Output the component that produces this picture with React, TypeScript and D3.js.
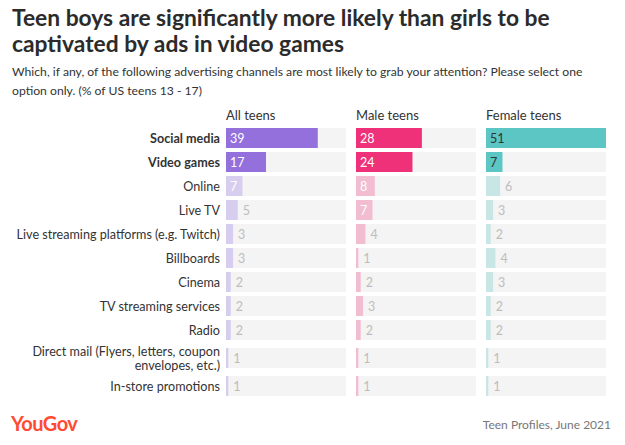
import React from "react";
import * as d3 from "d3";

const categories = [
  "Social media",
  "Video games",
  "Online",
  "Live TV",
  "Live streaming platforms (e.g. Twitch)",
  "Billboards",
  "Cinema",
  "TV streaming services",
  "Radio",
  "Direct mail (Flyers, letters, coupon|envelopes, etc.)",
  "In-store promotions",
];
const highlighted = ["Social media", "Video games"];
const allTeens = [39, 17, 7, 5, 3, 3, 2, 2, 2, 1, 1];
const maleTeens = [28, 24, 8, 7, 4, 1, 2, 3, 2, 1, 1];
const femaleTeens = [51, 7, 6, 3, 2, 4, 3, 2, 2, 1, 1];
const seriesNames = ["All teens", "Male teens", "Female teens"];

const panels = [
  { name: seriesNames[0], values: allTeens, strong: "#9370DB", light: "#D7CEEF", strongText: "#ffffff", x0: 226 },
  { name: seriesNames[1], values: maleTeens, strong: "#EE3179", light: "#F2BCD1", strongText: "#ffffff", x0: 356 },
  { name: seriesNames[2], values: femaleTeens, strong: "#5BC6C4", light: "#C8E6E6", strongText: "#333333", x0: 486 },
];

const FONT = "Lato, 'Open Sans', sans-serif";

export default function App() {
  const panelW = 120;
  const x = d3.scaleLinear().domain([0, 51]).range([0, panelW]);

  const rows: { y: number; lines: string[] }[] = [];
  let cy = 128;
  categories.forEach((c) => {
    const lines = c.split("|");
    const extra = lines.length > 1 ? 4 : 0;
    rows.push({ y: cy + extra, lines });
    cy += 20 + 2 * extra + 4;
  });

  return (
    <svg
      width={625}
      height={445}
      style={{ position: "absolute", left: 0, top: 0, background: "#fff" }}
      fontFamily={FONT}
    >
      <text x={12} y={26} fontSize={22.8} fontWeight={700} fill="#2b2b2b">
        Teen boys are significantly more likely than girls to be
      </text>
      <text x={12} y={52} fontSize={22.8} fontWeight={700} fill="#2b2b2b">
        captivated by ads in video games
      </text>
      <text x={12} y={76} fontSize={12.2} fill="#333">
        Which, if any, of the following advertising channels are most likely to grab your attention? Please select one
      </text>
      <text x={12} y={95} fontSize={12.2} fill="#333">
        option only. (% of US teens 13 - 17)
      </text>

      {panels.map((p) => (
        <text key={p.name} x={p.x0} y={120} fontSize={13} fill="#333">
          {p.name}
        </text>
      ))}

      {categories.map((c, i) => {
        const r = rows[i];
        const bold = highlighted.includes(c);
        const barY = r.y;
        const barH = 20;
        const mid = barY + barH / 2;
        return (
          <g key={c}>
            {r.lines.length === 1 ? (
              <text x={220} y={mid + 4.5} fontSize={12.6} textAnchor="end" fill="#333" fontWeight={bold ? 700 : 400}>
                {r.lines[0]}
              </text>
            ) : (
              r.lines.map((l, k) => (
                <text key={k} x={220} y={mid - 2.5 + k * 14.5} fontSize={12.6} textAnchor="end" fill="#333">
                  {l}
                </text>
              ))
            )}
            {panels.map((p) => {
              const v = p.values[i];
              const w = x(v);
              const isStrong = bold;
              const inside = isStrong || w >= 16;
              const color = isStrong ? p.strong : p.light;
              const txtColor = isStrong ? p.strongText : inside ? "#ffffff" : "#bdbdbd";
              return (
                <g key={p.name}>
                  <rect x={p.x0} y={barY} width={panelW} height={barH} fill="#F4F4F4" />
                  <rect x={p.x0} y={barY} width={w} height={barH} fill={color} />
                  <text
                    x={inside ? p.x0 + 4 : p.x0 + w + 5}
                    y={mid + 4.5}
                    fontSize={12.5}
                    fill={txtColor}
                  >
                    {v}
                  </text>
                </g>
              );
            })}
          </g>
        );
      })}

      <text x={11} y={431} fontSize={20} fontWeight={700} fill="#FF4B33" letterSpacing={-0.5}>
        YouGov
      </text>
      <text x={611} y={429} fontSize={12} textAnchor="end" fill="#777">
        Teen Profiles, June 2021
      </text>
    </svg>
  );
}
